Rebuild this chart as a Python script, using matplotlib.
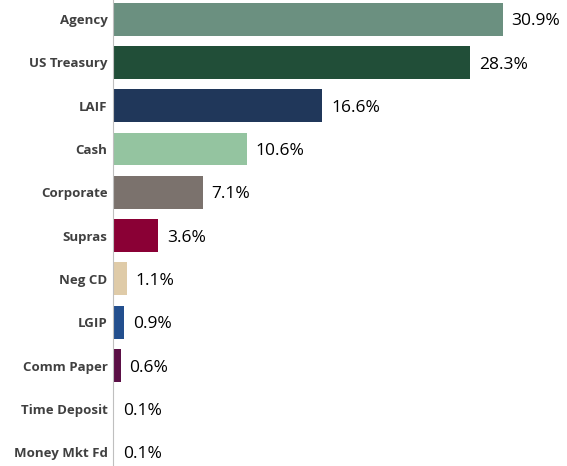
import matplotlib.pyplot as plt

categories = ["Agency", "US Treasury", "LAIF", "Cash", "Corporate", "Supras",
              "Neg CD", "LGIP", "Comm Paper", "Time Deposit", "Money Mkt Fd"]
values = [30.9, 28.3, 16.6, 10.6, 7.1, 3.6, 1.1, 0.9, 0.6, 0.1, 0.1]
colors = ["#6b9080", "#214e38", "#20375a", "#94c4a0", "#7b726d", "#8a0035",
          "#dfcba8", "#234f8e", "#5b0f46", "#8aa99a", "#6f8c7d"]

fig = plt.figure(figsize=(5.67, 4.66), dpi=100)
ax = fig.add_axes([113 / 567, 0.0, 454 / 567, 1.0])

y = list(range(len(categories)))
ax.barh(y, values, height=0.76, color=colors)
for yi, v in zip(y, values):
    ax.text(v + 0.7, yi + 0.05, f"{v}%", va="center", ha="left", fontsize=12.5,
            family="Open Sans", color="black")

ax.set_xlim(0, 36)
ax.set_ylim(10.32, -0.44)
ax.set_yticks(y)
ax.set_yticklabels(categories, fontsize=9.5, fontweight="bold", color="#404040",
                   family="Open Sans")
ax.tick_params(axis="y", length=0, pad=4)
ax.set_xticks([])
for s in ["top", "right", "bottom"]:
    ax.spines[s].set_visible(False)
ax.spines["left"].set_color("#bfbfbf")
ax.spines["left"].set_linewidth(0.8)

fig.savefig("out.png", dpi=100)
